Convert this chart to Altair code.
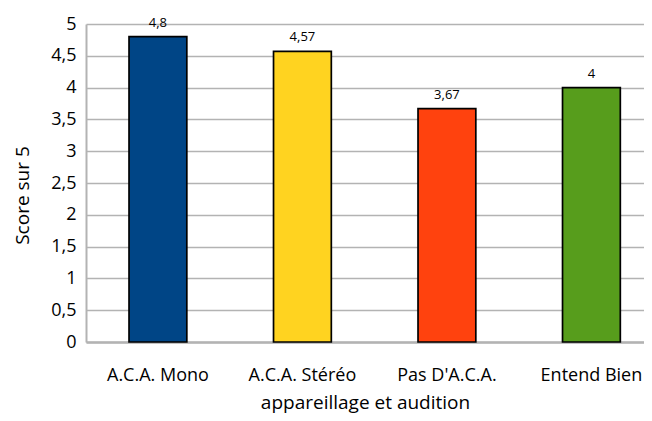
import altair as alt
import pandas as pd

categories = ["A.C.A. Mono", "A.C.A. Stéréo", "Pas D'A.C.A.", "Entend Bien"]
scores = [4.8, 4.57, 3.67, 4.0]
labels = ["4,8", "4,57", "3,67", "4"]
colors = ["#004586", "#ffd320", "#ff420e", "#579d1c"]
yticks = [0, 0.5, 1, 1.5, 2, 2.5, 3, 3.5, 4, 4.5, 5]

df = pd.DataFrame({"cat": categories, "score": scores, "label": labels})

FONT = "Open Sans"
W, H = 558, 318
xscale = alt.Scale(paddingInner=0.6, paddingOuter=0.2308, align=0.645)

x = alt.X("cat:N", sort=categories, title="appareillage et audition",
          scale=xscale,
          axis=alt.Axis(labelAngle=0, ticks=False, domain=True, domainColor="#b3b3b3",
                        domainWidth=2.5, labelPadding=38, labelBaseline="alphabetic",
                        labelFontSize=18, labelFont=FONT, labelColor="#000",
                        titleFontSize=19, titleFont=FONT, titleFontWeight="normal",
                        titleColor="#000", titleY=66, titleBaseline="alphabetic",
                        titleX=W / 2, titleAlign="center"))

y = alt.Y("score:Q", title="Score sur 5",
          scale=alt.Scale(domain=[0, 5], nice=False),
          axis=alt.Axis(values=yticks, format="~g", labelOverlap=False,
                        labelExpr="replace(datum.label, '.', ',')",
                        ticks=False, domain=True, domainColor="#b3b3b3", domainWidth=2,
                        labelPadding=10,
                        labelFontSize=18, labelFont=FONT, labelColor="#000",
                        titleFontSize=19, titleFont=FONT, titleFontWeight="normal",
                        titleColor="#000", titleX=-64, titleY=171,
                        titleAngle=270, titleAlign="center", titleBaseline="middle",
                        grid=True, gridColor="#b3b3b3", gridWidth=1.5))

bars = alt.Chart(df).mark_bar(stroke="#000", strokeWidth=1.7).encode(
    x=x,
    y=y,
    color=alt.Color("cat:N", sort=categories,
                    scale=alt.Scale(domain=categories, range=colors), legend=None),
)

text = alt.Chart(df).mark_text(baseline="alphabetic", dy=-10, fontSize=13, font=FONT, color="#000").encode(
    x=x,
    y=y,
    text="label:N",
)

chart = alt.layer(bars, text).properties(
    width=W, height=H,
    autosize=alt.AutoSizeParams(type="none"),
    padding={"left": 78, "top": 16, "right": 0, "bottom": 71},
).configure_view(stroke=None)

chart.save("out.html", embed_options={"renderer": "svg", "actions": False})
